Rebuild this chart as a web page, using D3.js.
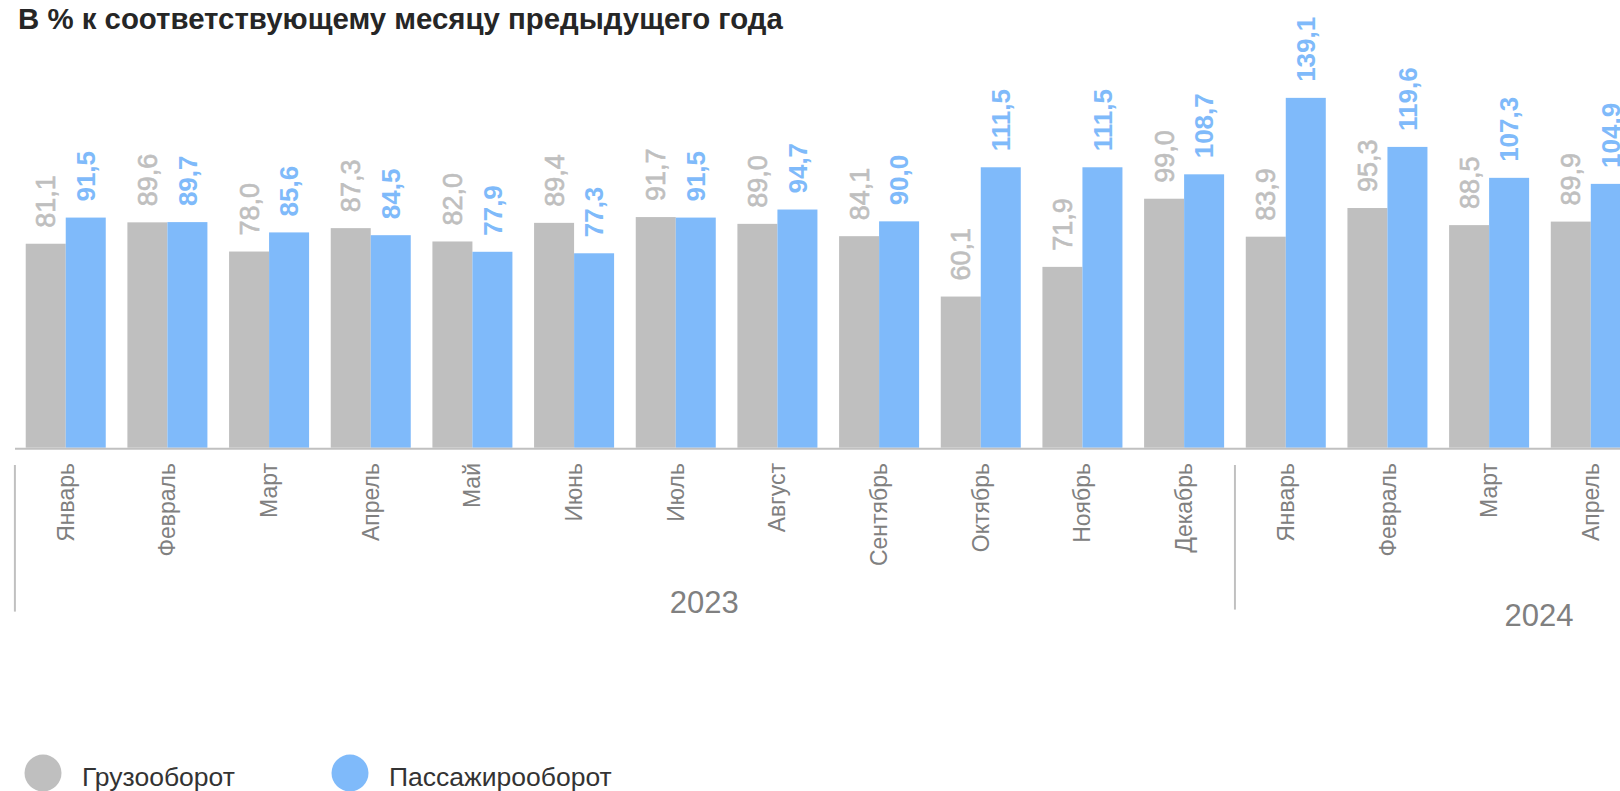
<!DOCTYPE html>
<html>
<head>
<meta charset="utf-8">
<script src="https://cdn.jsdelivr.net/npm/d3@7"></script>
<style>
  body { margin: 0; background: #fff; overflow: hidden; }
  svg { display: block; font-family: 'Liberation Sans', Arial, sans-serif; }
</style>
</head>
<body>
<div class="container"></div>
<script>
let width = 1620;
let height = 791;

let title = 'В % к соответствующему месяцу предыдущего года';

let years = ['2023', '2023', '2023', '2023', '2023', '2023', '2023', '2023', '2023', '2023', '2023', '2023',
  '2024', '2024', '2024', '2024'];
let months = ['Январь', 'Февраль', 'Март', 'Апрель', 'Май', 'Июнь', 'Июль', 'Август', 'Сентябрь', 'Октябрь',
  'Ноябрь', 'Декабрь', 'Январь', 'Февраль', 'Март', 'Апрель'];

let seriesNames = ['Грузооборот', 'Пассажирооборот'];
let cargo = [81.1, 89.6, 78.0, 87.3, 82.0, 89.4, 91.7, 89.0, 84.1, 60.1, 71.9, 99.0, 83.9, 95.3, 88.5, 89.9];
let passengers = [91.5, 89.7, 85.6, 84.5, 77.9, 77.3, 91.5, 94.7, 90.0, 111.5, 111.5, 108.7, 139.1, 119.6, 107.3, 104.9];

let colors = ['#bfbfbf', '#7fbafa'];
let baseline = 447.7;

let keys = months.map((m, i) => years[i] + '-' + m);

let data = keys.map((k, i) => ({
  key: k,
  month: months[i],
  year: years[i],
  values: [cargo[i], passengers[i]]
}));

let x = d3.scaleBand()
  .domain(keys)
  .range([14.9, 14.9 + 101.67 * keys.length])
  .paddingInner(0.213)
  .paddingOuter(0.1065);

let xSub = d3.scaleBand()
  .domain([0, 1])
  .range([0, x.bandwidth()]);

let y = d3.scaleLinear()
  .domain([0, 140])
  .range([baseline, baseline - 140 * 2.515]);

let fmt = (v) => v.toFixed(1).replace('.', ',');

let svg = d3.select('.container').append('svg')
  .attr('width', width)
  .attr('height', height);

svg.append('text')
  .text(title)
  .attr('x', 18)
  .attr('y', 29)
  .attr('fill', '#262626')
  .style('font-size', '29.4px')
  .style('font-weight', 'bold');

let groups = svg.selectAll('.group')
  .data(data)
  .enter()
  .append('g')
  .attr('class', 'group')
  .attr('transform', (d) => `translate(${x(d.key)},0)`);

groups.selectAll('rect')
  .data((d) => d.values.map((v, i) => ({ v, i })))
  .enter()
  .append('rect')
  .attr('x', (d) => xSub(d.i))
  .attr('y', (d) => y(d.v))
  .attr('width', xSub.bandwidth())
  .attr('height', (d) => y(0) - y(d.v))
  .attr('fill', (d) => colors[d.i]);

groups.selectAll('.value')
  .data((d) => d.values.map((v, i) => ({ v, i })))
  .enter()
  .append('text')
  .attr('class', 'value')
  .text((d) => fmt(d.v))
  .attr('transform', (d) => `translate(${xSub(d.i) + xSub.bandwidth() / 2},${y(d.v) - 16}) rotate(-90)`)
  .attr('dy', '0.35em')
  .attr('text-anchor', 'start')
  .attr('fill', (d) => colors[d.i])
  .style('font-size', (d) => d.i === 1 ? '26px' : '27px')
  .style('font-weight', (d) => d.i === 1 ? 'bold' : 'normal')
  .style('stroke', (d) => d.i === 1 ? 'none' : colors[0])
  .style('stroke-width', 0.6);

// axis line
svg.append('line')
  .attr('x1', 15)
  .attr('x2', width)
  .attr('y1', baseline + 1)
  .attr('y2', baseline + 1)
  .attr('stroke', '#c0c0c0')
  .attr('stroke-width', 2);

// month labels
svg.selectAll('.month')
  .data(data)
  .enter()
  .append('text')
  .attr('class', 'month')
  .text((d) => d.month)
  .attr('transform', (d) => `translate(${x(d.key) + x.bandwidth() / 2},463) rotate(-90)`)
  .attr('dy', '0.35em')
  .attr('text-anchor', 'end')
  .attr('fill', '#808080')
  .style('font-size', '23px');

// year separators and labels
let yearList = Array.from(new Set(years));
let yearLabel = [
  { offset: 6.78, y: 613, sepBottom: 611.6 },
  { offset: 2.99, y: 626, sepBottom: 609.6 }
];

yearList.forEach((yr, i) => {
  let first = keys[years.indexOf(yr)];
  let sx = x(first) - x.step() * x.paddingInner() / 2;

  svg.append('line')
    .attr('x1', sx)
    .attr('x2', sx)
    .attr('y1', 465)
    .attr('y2', yearLabel[i].sepBottom)
    .attr('stroke', '#c0c0c0')
    .attr('stroke-width', 2);

  svg.append('text')
    .text(yr)
    .attr('x', sx + x.step() * yearLabel[i].offset)
    .attr('y', yearLabel[i].y)
    .attr('text-anchor', 'middle')
    .attr('fill', '#808080')
    .style('font-size', '31px');
});

// legend
let legendX = [43, 350];

let legend = svg.selectAll('.legend')
  .data(seriesNames)
  .enter()
  .append('g')
  .attr('class', 'legend')
  .attr('transform', (d, i) => `translate(${legendX[i]},773)`);

legend.append('circle')
  .attr('r', 18.5)
  .attr('fill', (d, i) => colors[i]);

legend.append('text')
  .text((d) => d)
  .attr('x', 39)
  .attr('y', 13)
  .attr('fill', '#333')
  .style('font-size', '26.5px');
</script>
</body>
</html>
